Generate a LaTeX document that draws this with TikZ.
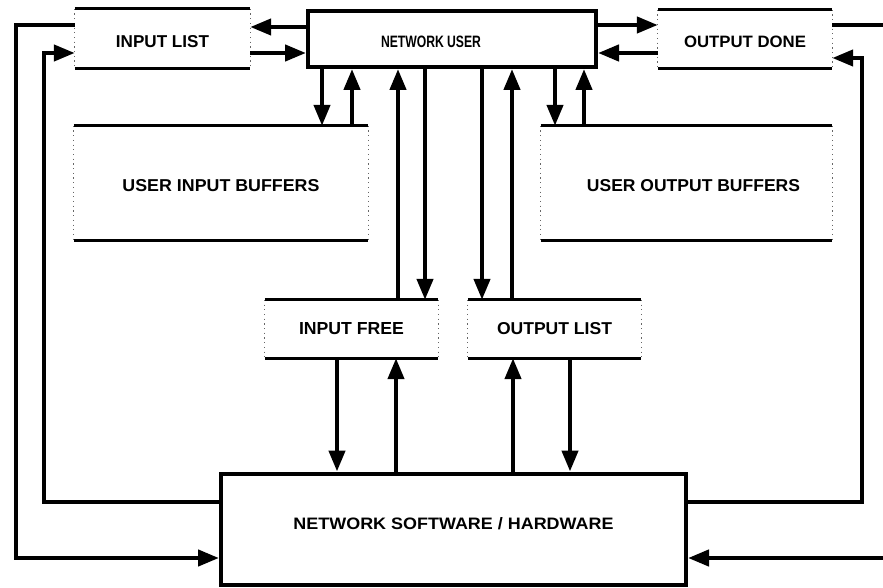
\documentclass[tikz,border=0pt]{standalone}
\usepackage{fontspec}
\usepackage{graphicx}
\setmainfont{Liberation Sans}
\usetikzlibrary{arrows.meta}

% scale a label to a given width and cap height
\newcommand{\fitlbl}[3]{\resizebox{#1}{#2}{\bfseries #3}}

\begin{document}
\begin{tikzpicture}[x=1pt,y=-1pt,
  mainbox/.style={draw, line width=4pt, inner sep=0pt},
  bufbox/.style={inner sep=0pt},
  bufedge/.style={line width=2.8pt},
  bufside/.style={line width=1pt, black!60, dash pattern=on 1.2pt off 3.5pt},
  lbl/.style={inner sep=0pt},
  conn/.style={line width=4.3pt},
  arr/.style={conn, -{Triangle[length=21pt,width=16pt]}}]

\useasboundingbox (0,0) rectangle (883,588);

% ---- boxes ----
\node[mainbox, minimum width=288pt, minimum height=56pt,
      label={[lbl,xshift=-21pt,yshift=-3pt]center:\fitlbl{100pt}{11.5pt}{NETWORK USER}}]
      (nu) at (452,39) {};
\node[bufbox, minimum width=175pt, minimum height=59pt,
      label={[lbl,yshift=-3pt]center:\fitlbl{93pt}{12pt}{INPUT LIST}}]
      (il) at (162.5,38.5) {};
\node[bufbox, minimum width=174pt, minimum height=58pt,
      label={[lbl,yshift=-3pt]center:\fitlbl{122pt}{11.5pt}{OUTPUT DONE}}]
      (od) at (745,39) {};
\node[bufbox, minimum width=294pt, minimum height=114pt,
      label={[lbl,yshift=-3pt]center:\fitlbl{197pt}{12pt}{USER INPUT BUFFERS}}]
      (uib) at (221,183) {};
\node[bufbox, minimum width=291pt, minimum height=114pt,
      label={[lbl,xshift=7pt,yshift=-3pt]center:\fitlbl{213pt}{12pt}{USER OUTPUT BUFFERS}}]
      (uob) at (686.5,183) {};
\node[bufbox, minimum width=173pt, minimum height=58pt,
      label={[lbl]center:\fitlbl{105pt}{12pt}{INPUT FREE}}]
      (if) at (351.5,329) {};
\node[bufbox, minimum width=173pt, minimum height=58pt,
      label={[lbl]center:\fitlbl{115pt}{12pt}{OUTPUT LIST}}]
      (ol) at (554.5,329) {};
\node[mainbox, minimum width=465pt, minimum height=111pt,
      label={[lbl,yshift=5pt]center:\fitlbl{320pt}{12pt}{NETWORK SOFTWARE / HARDWARE}}]
      (nsh) at (453.5,529) {};

% buffer outlines: solid top and bottom, dotted sides
\foreach \n in {il,od,uib,uob,if,ol} {
  \draw[bufedge] (\n.north west) -- (\n.north east)
                 (\n.south west) -- (\n.south east);
  \draw[bufside] (\n.north west) -- (\n.south west)
                 (\n.north east) -- (\n.south east);
}

% ---- network user <-> lists ----
\draw[arr] (nu.west |- 0,27) -- (il.east |- 0,27);
\draw[arr] (il.east |- 0,53) -- (nu.west |- 0,53);
\draw[arr] (nu.east |- 0,25) -- (od.west |- 0,25);
\draw[arr] (od.west |- 0,53) -- (nu.east |- 0,53);

% ---- network user <-> buffers ----
\draw[arr] (nu.south -| 322,0) -- (uib.north -| 322,0);
\draw[arr] (uib.north -| 352,0) -- (nu.south -| 352,0);
\draw[arr] (nu.south -| 555,0) -- (uob.north -| 555,0);
\draw[arr] (uob.north -| 584,0) -- (nu.south -| 584,0);

% ---- network user <-> input free / output list ----
\draw[arr] (if.north -| 398,0) -- (nu.south -| 398,0);
\draw[arr] (nu.south -| 425,0) -- (if.north -| 425,0);
\draw[arr] (nu.south -| 482,0) -- (ol.north -| 482,0);
\draw[arr] (ol.north -| 512,0) -- (nu.south -| 512,0);

% ---- input free / output list <-> network software ----
\draw[arr] (if.south -| 337,0) -- (nsh.north -| 337,0);
\draw[arr] (nsh.north -| 396,0) -- (if.south -| 396,0);
\draw[arr] (nsh.north -| 513,0) -- (ol.south -| 513,0);
\draw[arr] (ol.south -| 570,0) -- (nsh.north -| 570,0);

% ---- outer loops on the left ----
\draw[arr] (il.west |- 0,25) -- (16,25) -- (16,558) -- (nsh.west |- 0,558);
\draw[arr] (nsh.west |- 0,502) -- (44,502) -- (44,53) -- (il.west |- 0,53);

% ---- outer loops on the right ----
\coordinate (rtop) at (883,25);
\coordinate (rbot) at (883,558);
\draw[conn] (od.east |- 0,25) -- (rtop);
\draw[arr] (rbot) -- (nsh.east |- 0,558);
\draw[arr] (nsh.east |- 0,502) -- (862,502) -- (862,58) -- (od.east |- 0,58);

\end{tikzpicture}
\end{document}
